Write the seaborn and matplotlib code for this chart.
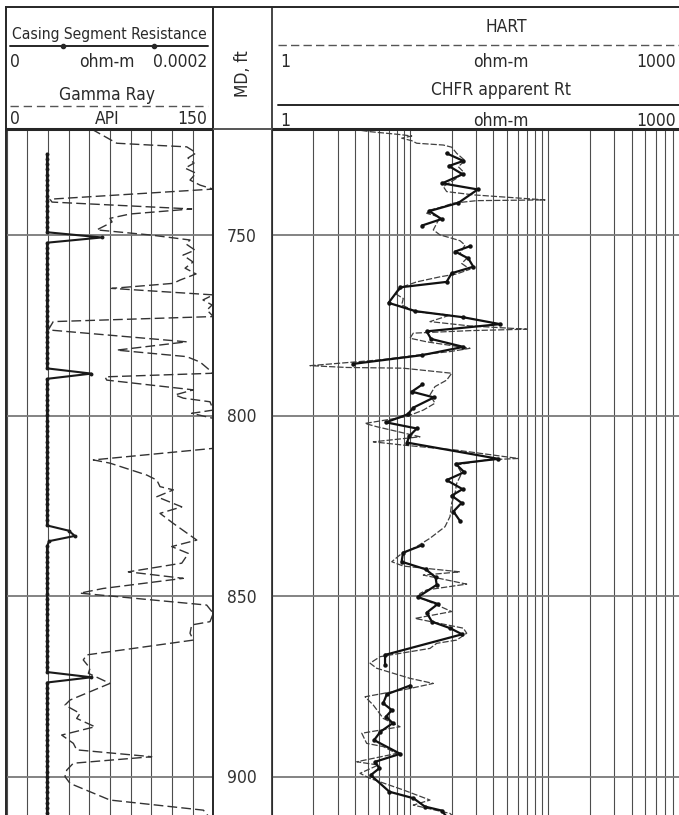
import numpy as np
import pandas as pd
import matplotlib
matplotlib.use("Agg")
import matplotlib.pyplot as plt
import matplotlib.transforms as mtransforms
from matplotlib.ticker import FixedLocator, LogLocator, NullFormatter
import seaborn as sns

# ---------------------------------------------------------------------------
# Log data (depth in ft MD)
# ---------------------------------------------------------------------------
gr_depth = [
    720.6, 724.5, 725.0, 725.5, 726.4, 727.2, 728.6, 730.0, 731.4, 732.8,
    734.7, 736.1, 737.2, 740.0, 740.8, 742.7, 744.1, 745.3, 746.3, 747.1,
    748.5, 749.9, 751.3, 752.4, 754.1, 755.5, 757.4, 759.1, 760.7, 762.4,
    763.3, 764.7, 766.5, 767.9, 769.3, 770.7, 772.5, 773.9, 776.2, 779.5,
    781.8, 783.6, 785.1, 788.2, 789.2, 790.1, 792.8, 794.2, 795.1, 796.1,
    798.4, 799.3, 800.7, 809.0, 812.2, 813.1, 816.4, 817.8, 819.6, 820.5,
    822.4, 825.2, 827.0, 829.8, 834.4, 836.2, 838.1, 840.8, 843.2, 845.0,
    847.8, 849.1, 852.4, 854.7, 857.0, 857.9, 860.2, 862.1, 866.2, 867.6,
    869.9, 871.3, 874.1, 878.7, 880.1, 882.4, 883.8, 886.1, 888.4, 890.7,
    892.5, 894.4, 896.2, 898.1, 899.9, 901.8, 906.4, 909.2, 911.4,
]
gr_api = [
    61.7, 79.9, 104.1, 130.7, 134.5, 137.5, 131.6, 136.0, 129.5, 137.5,
    133.1, 140.4, 149.8, 31.4, 32.9, 134.3, 89.5, 75.0, 76.5, 72.6,
    65.4, 104.1, 133.1, 130.2, 136.7, 128.0, 135.3, 129.5, 137.5, 125.8,
    121.0, 76.2, 150.0, 142.5, 149.1, 145.4, 150.0, 33.8, 30.2, 130.7,
    79.9, 130.7, 140.4, 150.0, 71.4, 72.6, 135.5, 122.2, 128.2, 147.6,
    150.0, 134.3, 150.0, 150.0, 62.9, 75.0, 101.7, 109.0, 111.3, 121.0,
    109.0, 127.1, 111.3, 121.0, 138.0, 119.8, 131.9, 127.1, 88.3, 128.2,
    70.1, 53.2, 145.2, 150.0, 147.6, 134.3, 133.1, 135.5, 58.1, 55.6,
    60.5, 59.3, 75.0, 46.0, 42.3, 53.2, 50.8, 64.1, 39.9, 48.4,
    50.8, 105.3, 48.4, 43.6, 42.3, 46.0, 75.0, 142.8, 147.6,
]

# casing segment resistance, one station every 1.45 ft, values in 1e-5 ohm-m
casing_first, casing_last, casing_step = 727.4, 911.0, 1.45
casing_e5 = [
    3.9, 3.9, 3.9, 3.9, 3.9, 3.9, 3.9, 3.9, 3.9, 3.9,
    3.9, 3.9, 3.9, 3.9, 3.9, 3.9, 9.2, 3.9, 3.9, 3.9,
    3.9, 3.9, 3.9, 3.9, 3.9, 3.9, 3.9, 3.9, 3.9, 3.9,
    3.9, 3.9, 3.9, 3.9, 3.9, 3.9, 3.9, 3.9, 3.9, 3.9,
    3.9, 3.9, 8.2, 3.9, 3.9, 3.9, 3.9, 3.9, 3.9, 3.9,
    3.9, 3.9, 3.9, 3.9, 3.9, 3.9, 3.9, 3.9, 3.9, 3.9,
    3.9, 3.9, 3.9, 3.9, 3.9, 3.9, 3.9, 3.9, 3.9, 3.9,
    3.9, 3.9, 6.0, 6.6, 4.1, 3.9, 3.9, 3.9, 3.9, 3.9,
    3.9, 3.9, 3.9, 3.9, 3.9, 3.9, 3.9, 3.9, 3.9, 3.9,
    3.9, 3.9, 3.9, 3.9, 3.9, 3.9, 3.9, 3.9, 3.9, 3.9,
    8.2, 3.9, 3.9, 3.9, 3.9, 3.9, 3.9, 3.9, 3.9, 3.9,
    3.9, 3.9, 3.9, 3.9, 3.9, 3.9, 3.9, 3.9, 3.9, 3.9,
    3.9, 3.9, 3.9, 3.9, 3.9, 3.9, 3.9,
]

hart_depth = [
    720.3, 721.3, 722.1, 722.5, 723.1, 723.8, 724.5, 725.0, 725.6, 727.3,
    729.3, 731.0, 732.4, 734.2, 736.5, 737.9, 738.8, 740.2, 740.4, 741.1,
    742.3, 743.0, 743.9, 745.0, 746.7, 748.5, 749.9, 750.8, 751.5, 752.7,
    755.0, 756.4, 757.8, 759.4, 760.7, 761.5, 762.9, 764.2, 766.1, 767.5,
    769.3, 771.2, 772.1, 773.9, 775.1, 776.0, 776.4, 777.1, 778.5, 779.5,
    781.3, 782.2, 783.2, 784.5, 786.1, 786.6, 786.8, 788.2, 790.1, 791.9,
    794.2, 796.5, 798.4, 800.2, 802.1, 803.0, 805.8, 807.2, 808.1, 809.5,
    811.8, 812.2, 813.6, 815.9, 818.7, 821.5, 824.2, 827.9, 830.7, 833.9,
    836.2, 838.5, 840.4, 841.6, 843.2, 844.1, 846.6, 848.2, 849.2, 850.1,
    854.2, 856.1, 858.8, 860.2, 862.1, 863.0, 864.4, 866.7, 868.5, 869.9,
    872.7, 874.1, 875.5, 877.8, 880.1, 883.8, 886.1, 887.9, 890.7, 891.6,
    893.5, 895.8, 896.7, 899.0, 900.4, 903.6, 906.4, 907.8, 910.1, 911.4,
]
hart_ohmm = [
    3.39, 5.14, 8.47, 10.29, 8.71, 10.29, 11.18, 17.41, 20.02, 21.76,
    24.98, 22.35, 24.29, 21.76, 17.41, 18.42, 28.69, 94.7, 30.36, 20.56,
    16.48, 13.95, 13.21, 16.48, 15.60, 14.74, 16.48, 20.02, 22.99, 24.98,
    22.99, 25.70, 23.65, 27.15, 21.76, 16.48, 11.18, 8.94, 7.79, 8.94,
    8.71, 11.18, 19.46, 13.95, 27.15, 69.8, 27.15, 10.56, 10.0, 13.21,
    27.15, 19.46, 11.18, 6.07, 1.89, 3.49, 8.94, 20.02, 18.42, 15.16,
    13.95, 15.16, 12.48, 9.46, 4.73, 5.74, 11.81, 5.43, 8.94, 21.76,
    60.7, 35.9, 21.76, 23.65, 21.76, 21.15, 20.02, 19.46, 17.91, 13.95,
    11.18, 8.47, 7.38, 8.94, 22.99, 12.48, 25.70, 13.21, 11.81, 11.48,
    20.02, 10.87, 24.29, 25.70, 21.76, 15.60, 13.95, 6.07, 5.14, 5.74,
    10.0, 14.74, 10.0, 4.73, 5.43, 6.41, 8.47, 4.48, 4.86, 6.41,
    8.01, 4.12, 5.90, 4.35, 5.14, 8.94, 13.95, 10.56, 19.46, 21.15,
]

# CHFR stations, split into the continuous runs seen on the print
chfr_depth = [
    727.3, 729.4, 730.8, 733.1, 735.6, 737.3, 741.0, 743.3, 745.5, 747.3,
    753.0, 754.5, 756.4, 758.7, 760.5, 762.9, 764.4, 768.7, 771.0, 772.7,
    774.6, 776.6, 778.7, 780.9, 783.2, 785.6,
    791.3, 793.3, 794.9, 797.7, 799.6, 801.8, 803.5, 805.6, 807.4, 811.9,
    813.3, 815.6, 817.8, 820.3, 822.1, 824.1, 826.5, 829.1,
    835.8, 837.9, 840.4, 842.5, 844.7, 846.8, 850.2, 852.1, 854.5, 857.0,
    858.8, 860.5, 866.2, 869.0,
    874.7, 877.1, 879.6, 881.5, 883.3, 885.1, 887.5, 889.8, 893.6, 895.8,
    897.6, 899.5, 904.1, 905.9, 908.2, 909.3, 911.0,
]
chfr_ohmm = [
    18.4, 24.3, 19.1, 24.0, 17.1, 30.9, 22.4, 13.8, 16.9, 12.2,
    27.2, 21.2, 26.4, 28.7, 20.0, 18.4, 8.5, 7.0, 10.9, 24.3,
    44.8, 13.2, 14.2, 24.3, 12.2, 3.9,
    12.3, 10.3, 14.9, 10.6, 9.6, 6.7, 11.2, 9.9, 9.5, 43.5,
    21.4, 24.7, 18.4, 24.0, 20.0, 23.6, 20.6, 23.0,
    12.3, 8.9, 8.7, 13.0, 15.3, 15.6, 11.4, 15.9, 13.2, 14.4,
    19.5, 23.8, 6.6, 6.6,
    10.0, 6.8, 6.4, 7.4, 6.7, 7.5, 6.1, 5.5, 8.5, 5.6,
    6.0, 5.2, 7.1, 10.6, 12.8, 16.9, 18.4,
]
chfr_run = [1] * 10 + [2] * 16 + [3] * 18 + [4] * 14 + [5] * 17

depth_labels = [750, 800, 850, 900]

# ---------------------------------------------------------------------------
# Layout (figure pixels)
# ---------------------------------------------------------------------------
FIG_W, FIG_H, DPI = 679, 815, 100
HEADER_BOTTOM = 129
DEPTH_TOP, DEPTH_BOTTOM = 720.56, 910.54
TEXT = "#2a2a2a"
GRID_V = "#4d4d4d"
GRID_H = "#7a7a7a"

sns.set_style("white")
plt.rcParams["font.family"] = ["DejaVu Sans"]
plt.rcParams["font.stretch"] = "condensed"
plt.rcParams["font.size"] = 12.5


def track_axes(fig, x0, x1):
    h = (FIG_H - HEADER_BOTTOM) / FIG_H
    ax = fig.add_axes([x0 / FIG_W, 0, (x1 - x0) / FIG_W, h])
    ax.set_facecolor("none")
    for s in ax.spines.values():
        s.set_visible(False)
    ax.tick_params(which="both", length=0, labelbottom=False, labelleft=False,
                   labeltop=False, labelright=False)
    return ax


def depth_grid(ax):
    ax.yaxis.set_major_locator(FixedLocator(depth_labels))
    ax.grid(axis="y", which="major", color=GRID_H, lw=1.3)
    ax.set_ylim(DEPTH_BOTTOM, DEPTH_TOP)
    ax.set_xlabel("")
    ax.set_ylabel("")


fig = plt.figure(figsize=(FIG_W / DPI, FIG_H / DPI), dpi=DPI)

# ---- left track: gamma ray + casing segment resistance ----
ax_gr = track_axes(fig, 6.7, 213.3)
sns.lineplot(x=gr_api, y=gr_depth, ax=ax_gr, sort=False, estimator=None,
             orient="y", color="#333333", lw=1.0)
ax_gr.lines[-1].set_dashes([7, 3])
ax_gr.set_xlim(0, 150)
ax_gr.xaxis.set_major_locator(FixedLocator(np.linspace(0, 150, 11)))
ax_gr.grid(axis="x", color=GRID_V, lw=0.8)
depth_grid(ax_gr)

ax_cas = ax_gr.twiny()
ax_cas.set_facecolor("none")
for s in ax_cas.spines.values():
    s.set_visible(False)
casing_depth = np.arange(casing_first, casing_last, casing_step)
casing_ohmm = np.array(casing_e5) * 1e-5
sns.lineplot(x=casing_ohmm, y=casing_depth, ax=ax_cas, sort=False,
             estimator=None, orient="y", color="#1a1a1a", lw=1.5,
             marker="o", markersize=2.8, markeredgewidth=0)
ax_cas.set_xlim(0, 0.0002)
ax_cas.set_ylim(DEPTH_BOTTOM, DEPTH_TOP)
ax_cas.tick_params(which="both", length=0, labeltop=False, labelbottom=False)
ax_cas.set_xlabel("")
ax_cas.grid(False)

# ---- depth track ----
ax_md = track_axes(fig, 213.3, 272.0)
ax_md.set_xlim(0, 1)
ax_md.set_ylim(DEPTH_BOTTOM, DEPTH_TOP)
label_tr = mtransforms.offset_copy(ax_md.transData, fig=fig, y=-6.5, units="dots")
for d in depth_labels:
    ax_md.text(0.48, d, str(d), ha="center", va="baseline", color="#333333",
               transform=label_tr)

# ---- right track: resistivity (log 1-1000) ----
ax_rt = track_axes(fig, 271.7, 686.6)
ax_rt.set_xscale("log")
chfr = pd.DataFrame({"depth": chfr_depth, "ohmm": chfr_ohmm, "run": chfr_run})
sns.lineplot(x=hart_ohmm, y=hart_depth, ax=ax_rt, sort=False, estimator=None,
             orient="y", color="#404040", lw=0.9)
ax_rt.lines[-1].set_dashes([5, 1.6])
sns.lineplot(data=chfr, x="ohmm", y="depth", units="run", ax=ax_rt, sort=False,
             estimator=None, orient="y", color="#111111", lw=1.6,
             marker="o", markersize=3.2, markeredgewidth=0)
ax_rt.set_xlim(1, 1000)
ax_rt.xaxis.set_major_locator(LogLocator(base=10))
ax_rt.xaxis.set_minor_locator(LogLocator(base=10, subs=np.arange(2, 10)))
ax_rt.xaxis.set_minor_formatter(NullFormatter())
ax_rt.grid(axis="x", which="both", color=GRID_V, lw=0.8)
ax_rt.tick_params(which="both", length=0, labelbottom=False, labelleft=False)
depth_grid(ax_rt)

# ---- frame and header, drawn in figure pixels ----
ax_f = fig.add_axes([0, 0, 1, 1], zorder=5)
ax_f.set_xlim(0, FIG_W)
ax_f.set_ylim(FIG_H, 0)
ax_f.set_facecolor("none")
ax_f.axis("off")

frame = dict(color="#262626", lw=1.4)
ax_f.hlines(6.5, 5, FIG_W, **frame)
ax_f.vlines([5.5, 213.3], 6.5, FIG_H, **frame)
ax_f.vlines(272.0, 6.5, FIG_H, color="#262626", lw=1.2)
ax_f.hlines(HEADER_BOTTOM, 5, 213.3, color="#262626", lw=2.2)
ax_f.hlines(HEADER_BOTTOM, 213.3, 272.0, color="#555555", lw=1.4)
ax_f.hlines(HEADER_BOTTOM, 272.0, FIG_W, color="#262626", lw=2.2)

# left header
ax_f.text(109, 39.3, "Casing Segment Resistance", ha="center", va="baseline",
          color=TEXT, fontsize=11.2)
ax_f.plot([10, 208], [45.7, 45.7], color="#262626", lw=1.4)
ax_f.plot([63, 154], [45.7, 45.7], ls="none", marker="o", ms=3, color="#262626")
ax_f.text(10, 66.7, "0", ha="left", va="baseline", color=TEXT)
ax_f.text(107, 66.7, "ohm-m", ha="center", va="baseline", color=TEXT)
ax_f.text(207, 66.7, "0.0002", ha="right", va="baseline", color=TEXT)
ax_f.text(107, 100, "Gamma Ray", ha="center", va="baseline", color=TEXT)
gr_hdr, = ax_f.plot([10, 208], [106, 106], color="#555555", lw=1.0)
gr_hdr.set_dashes([6, 3.5])
ax_f.text(10, 124, "0", ha="left", va="baseline", color=TEXT)
ax_f.text(107, 124, "API", ha="center", va="baseline", color=TEXT)
ax_f.text(207, 124, "150", ha="right", va="baseline", color=TEXT)

# depth header
ax_f.text(243.3, 73.5, "MD, ft", ha="center", va="center", rotation=90, color=TEXT)

# right header
ax_f.text(506, 32.3, "HART", ha="center", va="baseline", color=TEXT)
hart_hdr, = ax_f.plot([278, FIG_W], [45, 45], color="#555555", lw=1.0)
hart_hdr.set_dashes([6, 3])
ax_f.text(280, 66.7, "1", ha="left", va="baseline", color=TEXT)
ax_f.text(501, 66.7, "ohm-m", ha="center", va="baseline", color=TEXT)
ax_f.text(676, 66.7, "1000", ha="right", va="baseline", color=TEXT)
ax_f.text(501, 95, "CHFR apparent Rt", ha="center", va="baseline", color=TEXT)
ax_f.plot([278, FIG_W], [105, 105], color="#262626", lw=1.4)
ax_f.text(280, 126, "1", ha="left", va="baseline", color=TEXT)
ax_f.text(501, 126, "ohm-m", ha="center", va="baseline", color=TEXT)
ax_f.text(676, 126, "1000", ha="right", va="baseline", color=TEXT)

fig.savefig("out.png", dpi=DPI, facecolor="white")
